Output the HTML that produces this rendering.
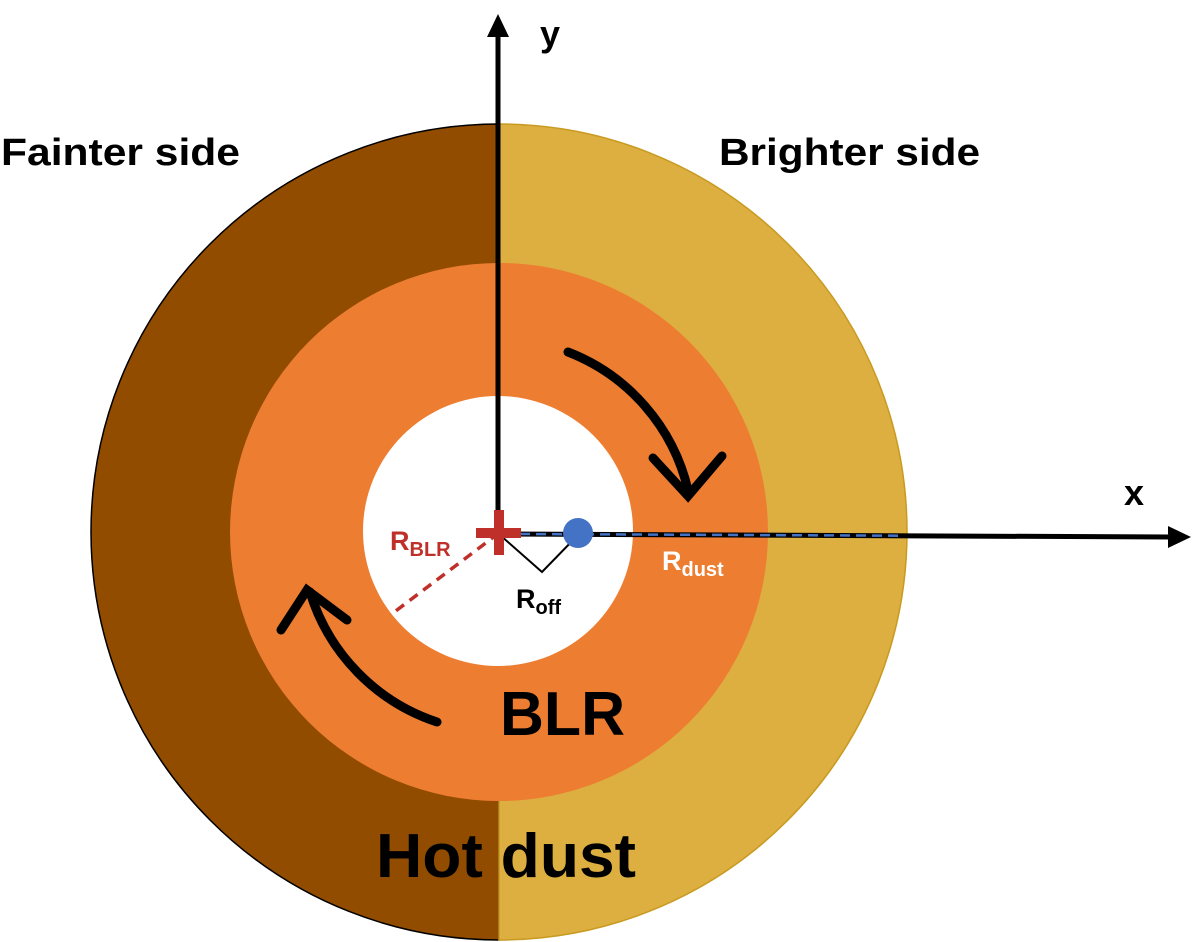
<!DOCTYPE html>
<html><head><style>
html,body{margin:0;padding:0;background:#fff;width:1200px;height:942px;overflow:hidden}
svg{display:block}
text{font-family:"Liberation Sans",sans-serif;font-weight:bold}
</style></head><body>
<svg width="1200" height="942" viewBox="0 0 1200 942">
<path d="M499,124 A408,408 0 0 0 499,940 Z" fill="#914c00" stroke="#000" stroke-width="1.5"/>
<path d="M499,124 A408,408 0 0 1 499,940 Z" fill="#ddae40" stroke="#c89a20" stroke-width="1.5"/>
<circle cx="499" cy="532" r="269" fill="#ed7d31"/>
<circle cx="498" cy="531" r="135" fill="#fff"/>
<line x1="498" y1="530" x2="498" y2="34" stroke="#000" stroke-width="5"/>
<polygon points="498,14 487,37 509,37" fill="#000"/>
<line x1="500" y1="534" x2="1170" y2="537" stroke="#000" stroke-width="5"/>
<polygon points="1191,537 1168,526 1168,548" fill="#000"/>
<line x1="520" y1="534" x2="900" y2="535.7" stroke="#4472c4" stroke-width="2.5" stroke-dasharray="10,6"/>
<line x1="499" y1="533" x2="393" y2="613" stroke="#c0302a" stroke-width="3.5" stroke-dasharray="10,7"/>
<polyline points="500,535 542,572 578,535" fill="none" stroke="#000" stroke-width="2"/>
<rect x="476" y="528" width="45" height="10" fill="#c0302a"/>
<rect x="494" y="510" width="10" height="45" fill="#c0302a"/>
<circle cx="578" cy="533" r="15" fill="#4472c4"/>
<path d="M568,352 A196,196 0 0 1 688,490" fill="none" stroke="#000" stroke-width="9" stroke-linecap="round"/>
<polyline points="653,458 688,496 722,456" fill="none" stroke="#000" stroke-width="9" stroke-linecap="round"/>
<path d="M437,722 A198,198 0 0 1 310,592" fill="none" stroke="#000" stroke-width="9" stroke-linecap="round"/>
<polyline points="281,630 307,590 347,620" fill="none" stroke="#000" stroke-width="9" stroke-linecap="round"/>
<text x="1" y="165" font-size="38" textLength="239" lengthAdjust="spacingAndGlyphs">Fainter side</text>
<text x="719" y="165" font-size="38" textLength="261" lengthAdjust="spacingAndGlyphs">Brighter side</text>
<text x="540" y="46" font-size="36">y</text>
<text x="1124" y="505" font-size="36">x</text>
<text x="390" y="550" font-size="27" fill="#c0302a">R<tspan font-size="20" dy="6">BLR</tspan></text>
<text x="516" y="608" font-size="27" fill="#000">R<tspan font-size="20" dy="6">off</tspan></text>
<text x="662" y="570" font-size="27" fill="#fff">R<tspan font-size="20" dy="6">dust</tspan></text>
<text x="500" y="735" font-size="62" textLength="125" lengthAdjust="spacingAndGlyphs">BLR</text>
<text x="376" y="877" font-size="62" textLength="260" lengthAdjust="spacingAndGlyphs">Hot dust</text>
</svg>
</body></html>
